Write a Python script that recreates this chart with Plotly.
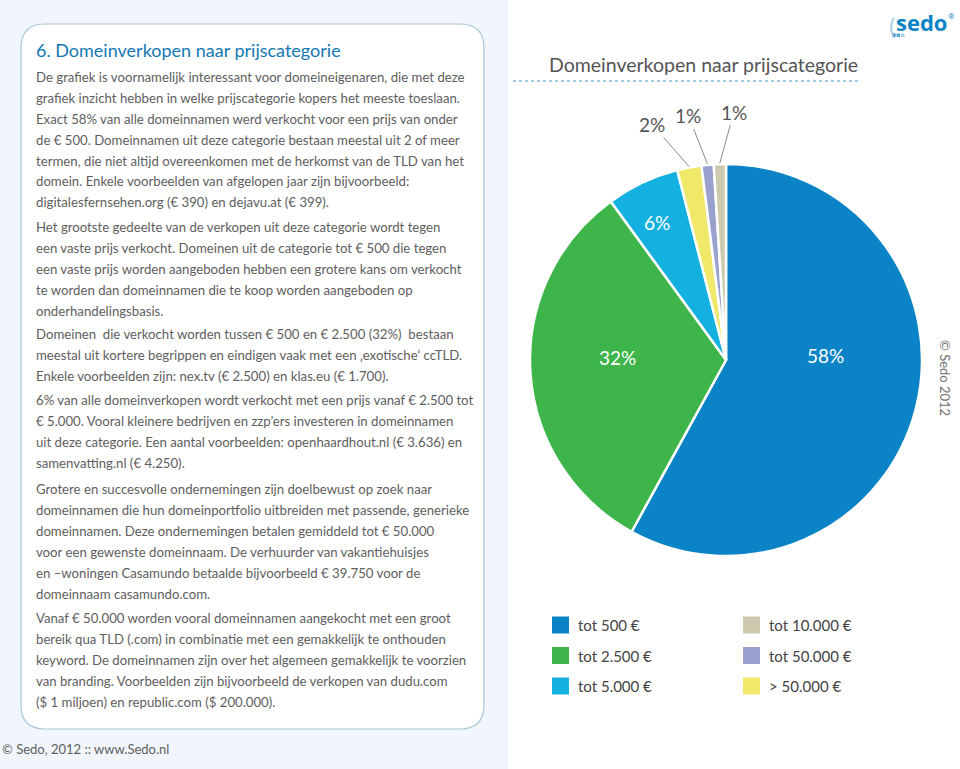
import plotly.graph_objects as go
import math

W, H = 960, 769

# ---- data ----
labels = ["tot 500 €", "tot 2.500 €", "tot 5.000 €", "> 50.000 €", "tot 50.000 €", "tot 10.000 €"]
values = [58, 32, 6, 2, 1, 1]
colors = ["#0a84c6", "#3db54a", "#14b1e0", "#f0e868", "#99a2cf", "#cdc9ae"]
legend_order = ["tot 500 €", "tot 2.500 €", "tot 5.000 €", "tot 10.000 €", "tot 50.000 €", "> 50.000 €"]

chart_title = "Domeinverkopen naar prijscategorie"
panel_title = "6. Domeinverkopen naar prijscategorie"
paragraphs = [
    ["De grafiek is voornamelijk interessant voor domeineigenaren, die met deze",
     "grafiek inzicht hebben in welke prijscategorie kopers het meeste toeslaan.",
     "Exact 58% van alle domeinnamen werd verkocht voor een prijs van onder",
     "de € 500. Domeinnamen uit deze categorie bestaan meestal uit 2 of meer",
     "termen, die niet altijd overeenkomen met de herkomst van de TLD van het",
     "domein. Enkele voorbeelden van afgelopen jaar zijn bijvoorbeeld:",
     "digitalesfernsehen.org (€ 390) en dejavu.at (€ 399)."],
    ["Het grootste gedeelte van de verkopen uit deze categorie wordt tegen",
     "een vaste prijs verkocht. Domeinen uit de categorie tot € 500 die tegen",
     "een vaste prijs worden aangeboden hebben een grotere kans om verkocht",
     "te worden dan domeinnamen die te koop worden aangeboden op",
     "onderhandelingsbasis."],
    ["Domeinen  die verkocht worden tussen € 500 en € 2.500 (32%)  bestaan",
     "meestal uit kortere begrippen en eindigen vaak met een ‚exotische‘ ccTLD.",
     "Enkele voorbeelden zijn: nex.tv (€ 2.500) en klas.eu (€ 1.700)."],
    ["6% van alle domeinverkopen wordt verkocht met een prijs vanaf € 2.500 tot",
     "€ 5.000. Vooral kleinere bedrijven en zzp’ers investeren in domeinnamen",
     "uit deze categorie. Een aantal voorbeelden: openhaardhout.nl (€ 3.636) en",
     "samenvatting.nl (€ 4.250)."],
    ["Grotere en succesvolle ondernemingen zijn doelbewust op zoek naar",
     "domeinnamen die hun domeinportfolio uitbreiden met passende, generieke",
     "domeinnamen. Deze ondernemingen betalen gemiddeld tot € 50.000",
     "voor een gewenste domeinnaam. De verhuurder van vakantiehuisjes",
     "en –woningen Casamundo betaalde bijvoorbeeld € 39.750 voor de",
     "domeinnaam casamundo.com."],
    ["Vanaf € 50.000 worden vooral domeinnamen aangekocht met een groot",
     "bereik qua TLD (.com) in combinatie met een gemakkelijk te onthouden",
     "keyword. De domeinnamen zijn over het algemeen gemakkelijk te voorzien",
     "van branding. Voorbeelden zijn bijvoorbeeld de verkopen van dudu.com",
     "($ 1 miljoen) en republic.com ($ 200.000)."],
]
para_start_y = [77, 227, 334, 400, 489, 618]

FONT = "Lato, 'Noto Sans', sans-serif"
TXT = "#5e5e5e"


def px(x):
    return x / W


def py(y):
    return 1 - y / H


# pie geometry (pixels)
cx, cy, R = 726, 360, 196

fig = go.Figure()
fig.add_trace(go.Pie(
    labels=labels, values=values, sort=False, direction="clockwise", rotation=0,
    marker=dict(colors=colors, line=dict(color="white", width=2.5)),
    textinfo="none",
    hoverinfo="label+percent",
    showlegend=False,
    domain=dict(x=[px(cx - R), px(cx + R)], y=[py(cy + R), py(cy - R)]),
))

shapes = []
annotations = []

# backgrounds
shapes.append(dict(type="rect", xref="paper", yref="paper", x0=0, x1=px(508), y0=0, y1=1,
                   fillcolor="#f0f6fc", line=dict(width=0), layer="below"))
# rounded box
x0b, x1b, y0b, y1b, rr = 21, 484, 24, 729, 24
path = (f"M {px(x0b+rr)},{py(y0b)} L {px(x1b-rr)},{py(y0b)} "
        f"Q {px(x1b)},{py(y0b)} {px(x1b)},{py(y0b+rr)} "
        f"L {px(x1b)},{py(y1b-rr)} Q {px(x1b)},{py(y1b)} {px(x1b-rr)},{py(y1b)} "
        f"L {px(x0b+rr)},{py(y1b)} Q {px(x0b)},{py(y1b)} {px(x0b)},{py(y1b-rr)} "
        f"L {px(x0b)},{py(y0b+rr)} Q {px(x0b)},{py(y0b)} {px(x0b+rr)},{py(y0b)} Z")
shapes.append(dict(type="path", xref="paper", yref="paper", path=path,
                   fillcolor="white", line=dict(color="#a8c6d4", width=1.2), layer="below"))

# panel title
annotations.append(dict(x=px(34), y=py(50), xref="paper", yref="paper", text=panel_title,
                        showarrow=False, xanchor="left", yanchor="middle",
                        font=dict(family=FONT, size=18, color="#1478b4")))
# paragraphs
for lines, y0 in zip(paragraphs, para_start_y):
    for i, line in enumerate(lines):
        annotations.append(dict(x=px(34), y=py(y0 + i * 20.9), xref="paper", yref="paper",
                                text=line, showarrow=False, xanchor="left", yanchor="middle",
                                font=dict(family=FONT, size=13.2, color=TXT)))
# footer
annotations.append(dict(x=0, y=py(749), xref="paper", yref="paper",
                        text="© Sedo, 2012 :: www.Sedo.nl", showarrow=False,
                        xanchor="left", yanchor="middle",
                        font=dict(family=FONT, size=13, color=TXT)))

# chart title + dotted rule
annotations.append(dict(x=px(703), y=py(64), xref="paper", yref="paper", text=chart_title,
                        showarrow=False, xanchor="center", yanchor="middle",
                        font=dict(family=FONT, size=19.5, color="#555555")))
shapes.append(dict(type="line", xref="paper", yref="paper", x0=px(513), x1=px(858),
                   y0=py(81), y1=py(81), line=dict(color="#9fcbe3", width=2, dash="dot")))

# slice labels, placed from the slice angles
total = sum(values)
cum = 0
inside_style = {0: (-17, 0.51), 1: (5, 0.556), 2: (-1.4, 0.787)}   # (angle nudge deg, radius frac)
outside_offsets = {3: (-37, -42), 4: (-19, -48), 5: (14, -51)}
for i, v in enumerate(values):
    mid = (cum + v / 2) / total * 2 * math.pi
    cum += v
    if i in inside_style:
        dth, f = inside_style[i]
        a = mid + math.radians(dth)
        lx = cx + R * f * math.sin(a)
        ly = cy - R * f * math.cos(a)
        annotations.append(dict(x=px(lx), y=py(ly), xref="paper", yref="paper",
                                text=f"{v}%", showarrow=False,
                                xanchor="center", yanchor="middle",
                                font=dict(family=FONT, size=19, color="white")))
    if i in outside_offsets:
        hx = cx + R * 1.005 * math.sin(mid)
        hy = cy - R * 1.005 * math.cos(mid)
        ax, ay = outside_offsets[i]
        annotations.append(dict(x=px(hx), y=py(hy), xref="paper", yref="paper",
                                text=f"{v}%", showarrow=True, arrowhead=0, arrowwidth=1,
                                arrowcolor="#8a8a8a", ax=ax, ay=ay, standoff=0,
                                font=dict(family=FONT, size=19, color="#555555")))

# manual legend (2 columns x 3 rows)
for k, name in enumerate(legend_order):
    col, row = divmod(k, 3)
    idx = labels.index(name)
    sx = 552 + col * 191
    sy = 625 + row * 30.5
    shapes.append(dict(type="rect", xref="paper", yref="paper",
                       x0=px(sx), x1=px(sx + 17), y0=py(sy + 8.5), y1=py(sy - 8.5),
                       fillcolor=colors[idx], line=dict(width=0)))
    annotations.append(dict(x=px(sx + 24), y=py(sy), xref="paper", yref="paper", text=name,
                            showarrow=False, xanchor="left", yanchor="middle",
                            font=dict(family=FONT, size=15, color="#444444")))

# vertical copyright
annotations.append(dict(x=px(945), y=py(378), xref="paper", yref="paper", text="© Sedo 2012",
                        showarrow=False, textangle=90, xanchor="center", yanchor="middle",
                        font=dict(family=FONT, size=13, color="#707070")))

# sedo logo
annotations.append(dict(x=px(921), y=py(22), xref="paper", yref="paper",
                        text="<b>sedo</b>", showarrow=False,
                        xanchor="center", yanchor="middle",
                        font=dict(family="'Open Sans', sans-serif", size=22, color="#0a84c6")))
annotations.append(dict(x=px(951), y=py(16), xref="paper", yref="paper",
                        text="®", showarrow=False,
                        xanchor="center", yanchor="middle",
                        font=dict(family="'Open Sans', sans-serif", size=8, color="#0a84c6")))
annotations.append(dict(x=px(892), y=py(25), xref="paper", yref="paper", text="(",
                        showarrow=False, xanchor="center", yanchor="middle",
                        font=dict(family=FONT, size=24, color="#a9cfe6")))
for j, c in enumerate(["#1c7fc0", "#4fa3d8", "#a9cfe6"]):
    shapes.append(dict(type="rect", xref="paper", yref="paper",
                       x0=px(892 + j * 4.5), x1=px(895.5 + j * 4.5), y0=py(37), y1=py(33.5),
                       fillcolor=c, line=dict(width=0)))

fig.update_layout(
    width=W, height=H, margin=dict(l=0, r=0, t=0, b=0),
    paper_bgcolor="white", plot_bgcolor="white",
    shapes=shapes, annotations=annotations,
    font=dict(family=FONT),
)
fig.write_html("out.html", config={"displayModeBar": False},
               post_script="document.body.style.margin='0px';document.body.style.overflow='hidden';")
